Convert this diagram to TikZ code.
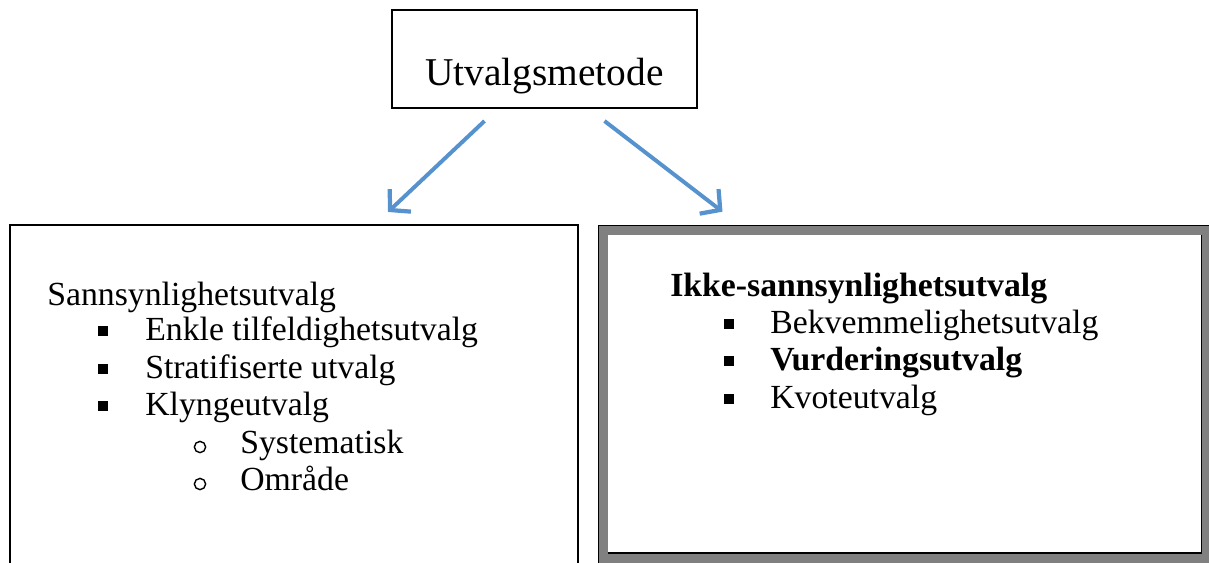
\documentclass[tikz,border=0pt]{standalone}
\usepackage{fontspec}
\setmainfont{Liberation Serif}
\usepackage{tikz}
\usetikzlibrary{positioning, arrows.meta, calc}

\definecolor{arrowblue}{RGB}{86,146,206}
\definecolor{framegray}{RGB}{128,128,128}

\begin{document}
\begin{tikzpicture}[x=0.025cm, y=-0.025cm,
    item/.style={anchor=base west, inner sep=0pt, font=\fontsize{24}{29}\selectfont},
    sqbullet/.style={fill=black, minimum size=6.5pt, inner sep=0pt},
    circbullet/.style={draw=black, line width=1pt, circle, minimum size=8pt, inner sep=0pt},
    flow/.style={arrowblue, line width=2.8pt, -{Straight Barb[length=10pt, width=22pt, line width=3pt]}}]
  \useasboundingbox (0,0) rectangle (1209,562);
  % Top box
  \node[draw, line width=1.4pt, minimum width=7.625cm, inner sep=0pt,
    text height=1.875cm, text depth=0.575cm, font=\fontsize{28}{34}\selectfont] (metode) at (544.5,59) {Utvalgsmetode};
  % Left box (runs past the bottom edge)
  \node[draw, line width=1.4pt, minimum width=14.2cm, minimum height=8.875cm, inner sep=0pt] (sann) at (294,402.5) {};
  % Right box with grey frame
  \node[fill=framegray, minimum width=15.425cm, minimum height=8.625cm, inner sep=0pt] (ikke) at (906.5,397.5) {};
  \fill[white] (608,235) rectangle (1201,553);
  \draw[line width=1.2pt] (598.5,570) -- (598.5,225.5) -- (1215,225.5);
  \draw[line width=1.2pt] (608,553) -- (1201.5,553) -- (1201.5,235);
  % Arrows
  \coordinate (lstart) at ($(metode.south)+(-60,12)$);
  \coordinate (lend) at ($(sann.north)+(94,-12)$);
  \coordinate (rstart) at ($(metode.south)+(60,12)$);
  \coordinate (rend) at ($(ikke.north)+(-184,-13)$);
  \draw[flow] (lstart) -- (lend);
  \draw[flow] (rstart) -- (rend);
  % Left list
  \node[item] (s0) at (47,305) {Sannsynlighetsutvalg};
  \node[item] (s1) at (145,340) {Enkle tilfeldighetsutvalg};
  \node[item] (s2) at (145,378) {Stratifiserte utvalg};
  \node[item] (s3) at (145,415) {Klyngeutvalg};
  \node[item] (s4) at (240,453) {Systematisk};
  \node[item] (s5) at (240,490) {Område};
  \node[sqbullet] (b1) at (103,331) {};
  \node[sqbullet] (b2) at (103,369) {};
  \node[sqbullet] (b3) at (103,406) {};
  \node[circbullet] (c4) at (200,447) {};
  \node[circbullet] (c5) at (200,484) {};
  % Right list
  \node[item, font=\fontsize{24}{29}\selectfont\bfseries] (i0) at (670,296) {Ikke-sannsynlighetsutvalg};
  \node[item] (i1) at (770,333) {Bekvemmelighetsutvalg};
  \node[item, font=\fontsize{24}{29}\selectfont\bfseries] (i2) at (770,370) {Vurderingsutvalg};
  \node[item] (i3) at (770,408) {Kvoteutvalg};
  \node[sqbullet] (d1) at (729,324) {};
  \node[sqbullet] (d2) at (729,361) {};
  \node[sqbullet] (d3) at (729,399) {};
\end{tikzpicture}
\end{document}
